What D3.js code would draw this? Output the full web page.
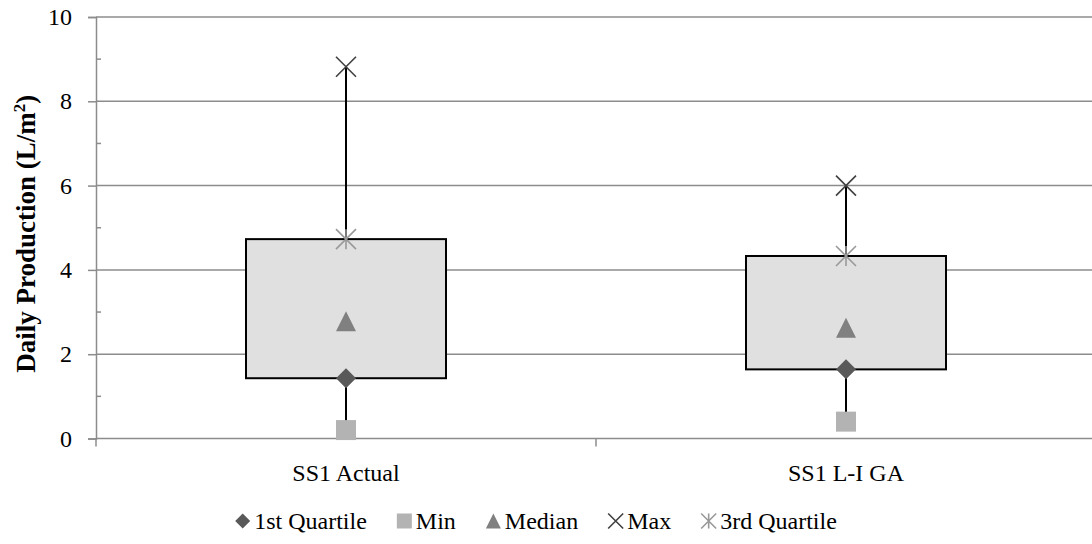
<!DOCTYPE html>
<html>
<head>
<meta charset="utf-8">
<script src="https://cdn.jsdelivr.net/npm/d3@7/dist/d3.min.js"></script>
<style>
  html, body { margin: 0; padding: 0; background: #fff; }
  svg { display: block; }
</style>
</head>
<body>
<svg id="chart" width="1092" height="544"></svg>
<script>
// Daily production summary statistics per system (L/m²)
const categories = ["SS1 Actual", "SS1 L-I GA"];
const minValues = [0.20, 0.40];
const q1Values = [1.43, 1.64];
const medianValues = [2.78, 2.63];
const q3Values = [4.73, 4.33];
const maxValues = [8.82, 6.00];
const yTicks = [0, 2, 4, 6, 8, 10];
const yMinorTicks = [1, 3, 5, 7, 9];
const legendLabels = ["1st Quartile", "Min", "Median", "Max", "3rd Quartile"];

const serif = '"Liberation Serif", serif';
const svg = d3.select("#chart");
const margin = { left: 96, right: -4, top: 17, bottom: 105.5 };
const W = 1092, H = 544;
const x0 = margin.left, x1 = W - margin.right;
const y0 = H - margin.bottom, y1 = margin.top;

const x = d3.scaleBand().domain(categories).range([x0, x1]);
const y = d3.scaleLinear().domain([0, 10]).range([y0, y1]);

const gridColor = "#8c8c8c";

function serifText(sel, size, weight) {
  return sel.style("font-family", serif)
    .style("font-weight", weight || 400)
    .style("font-size", size + "px")
    .style("fill", "#000");
}

// Horizontal gridlines
svg.append("g").selectAll("line").data(yTicks.filter(t => t > 0)).join("line")
  .attr("x1", x0).attr("x2", x1)
  .attr("y1", d => y(d)).attr("y2", d => y(d))
  .attr("stroke", gridColor).attr("stroke-width", 1.5);

// Y axis: major ticks with labels
const yAxis = svg.append("g").attr("transform", `translate(${x0},0)`)
  .call(d3.axisLeft(y).tickValues(yTicks).tickSize(8).tickPadding(16).tickFormat(d3.format("d")));
yAxis.attr("font-family", null).attr("font-size", null);
yAxis.select(".domain").attr("stroke", gridColor).attr("stroke-width", 1.5);
yAxis.selectAll(".tick line").attr("stroke", gridColor).attr("stroke-width", 1.5);
serifText(yAxis.selectAll(".tick text"), 24);

// Y axis: minor ticks
svg.append("g").selectAll("line").data(yMinorTicks).join("line")
  .attr("x1", x0).attr("x2", x0 + 5)
  .attr("y1", d => y(d)).attr("y2", d => y(d))
  .attr("stroke", gridColor).attr("stroke-width", 1.5);

// X axis
const xAxis = svg.append("g").attr("transform", `translate(0,${y0})`)
  .call(d3.axisBottom(x).tickSize(0).tickPadding(25));
xAxis.attr("font-family", null).attr("font-size", null);
xAxis.select(".domain").remove();
serifText(xAxis.selectAll(".tick text"), 24);
svg.append("line").attr("x1", x0).attr("x2", x1).attr("y1", y0).attr("y2", y0)
  .attr("stroke", gridColor).attr("stroke-width", 1.5);
// category boundary ticks
const boundaries = categories.map(c => x(c)).concat([x1]);
svg.append("g").selectAll("line").data(boundaries).join("line")
  .attr("x1", d => d).attr("x2", d => d).attr("y1", y0).attr("y2", y0 + 8)
  .attr("stroke", gridColor).attr("stroke-width", 1.5);

// Y axis title
const title = svg.append("text")
  .attr("transform", `translate(35,${(y0 + y1) / 2 + 6}) rotate(-90)`)
  .attr("text-anchor", "middle");
serifText(title, 27, 700);
title.append("tspan").text("Daily Production (L/m");
title.append("tspan").attr("dy", -10).style("font-size", "17px").text("2");
title.append("tspan").attr("dy", 10).text(")");

const cx = c => x(c) + x.bandwidth() / 2;
const boxW = x.bandwidth() * 0.4;

const rows = categories.map((c, i) => ({
  c, min: minValues[i], q1: q1Values[i], med: medianValues[i], q3: q3Values[i], max: maxValues[i]
}));

// Whiskers from min to max
svg.append("g").selectAll("line").data(rows).join("line")
  .attr("x1", d => cx(d.c)).attr("x2", d => cx(d.c))
  .attr("y1", d => y(d.min)).attr("y2", d => y(d.max))
  .attr("stroke", "#000").attr("stroke-width", 2);

// Boxes from Q1 to Q3
svg.append("g").selectAll("rect").data(rows).join("rect")
  .attr("x", d => cx(d.c) - boxW / 2).attr("width", boxW)
  .attr("y", d => y(d.q3)).attr("height", d => y(d.q1) - y(d.q3))
  .attr("fill", "#e0e0e0").attr("stroke", "#000").attr("stroke-width", 2);

// Marker shapes
const markerDefs = {
  q1: { color: "#595959", kind: "diamond" },
  min: { color: "#b3b3b3", kind: "square" },
  med: { color: "#808080", kind: "triangle" },
  max: { color: "#404040", kind: "x" },
  q3: { color: "#999999", kind: "asterisk" }
};

function drawMarker(g, kind, color, px, py, s) {
  const h = s / 2;
  if (kind === "diamond") {
    g.append("path").attr("d", `M${px},${py - h}L${px + h},${py}L${px},${py + h}L${px - h},${py}Z`).attr("fill", color);
  } else if (kind === "square") {
    g.append("rect").attr("x", px - h).attr("y", py - h).attr("width", s).attr("height", s).attr("fill", color);
  } else if (kind === "triangle") {
    g.append("path").attr("d", `M${px},${py - h}L${px + h},${py + h}L${px - h},${py + h}Z`).attr("fill", color);
  } else if (kind === "x") {
    g.append("path").attr("d", `M${px - h},${py - h}L${px + h},${py + h}M${px + h},${py - h}L${px - h},${py + h}`)
      .attr("stroke", color).attr("stroke-width", 1.6).attr("fill", "none");
  } else if (kind === "asterisk") {
    g.append("path").attr("d", `M${px - h},${py - h}L${px + h},${py + h}M${px + h},${py - h}L${px - h},${py + h}M${px},${py - h}L${px},${py + h}`)
      .attr("stroke", color).attr("stroke-width", 1.6).attr("fill", "none");
  }
}

const mg = svg.append("g");
const order = ["min", "q1", "med", "q3", "max"];
rows.forEach(d => {
  order.forEach(k => drawMarker(mg, markerDefs[k].kind, markerDefs[k].color, cx(d.c), y(d[k]), 20));
});

// Legend: items laid out from measured label widths, centred under the chart
const legendKeys = ["q1", "min", "med", "max", "q3"];
const lg = svg.append("g");
const mSize = 15, mGap = 4, itemGap = 30, legendY = 529, legendCenter = 536;
const texts = legendLabels.map(t => serifText(lg.append("text").attr("y", legendY), 24).text(t));
const widths = texts.map(t => t.node().getComputedTextLength());
const total = d3.sum(widths) + legendKeys.length * (mSize + mGap) + (legendKeys.length - 1) * itemGap;
let cursor = legendCenter - total / 2;
legendKeys.forEach((k, i) => {
  drawMarker(lg, markerDefs[k].kind, markerDefs[k].color, cursor + mSize / 2, legendY - 8, mSize);
  texts[i].attr("x", cursor + mSize + mGap);
  cursor += mSize + mGap + widths[i] + itemGap;
});
</script>
</body>
</html>
